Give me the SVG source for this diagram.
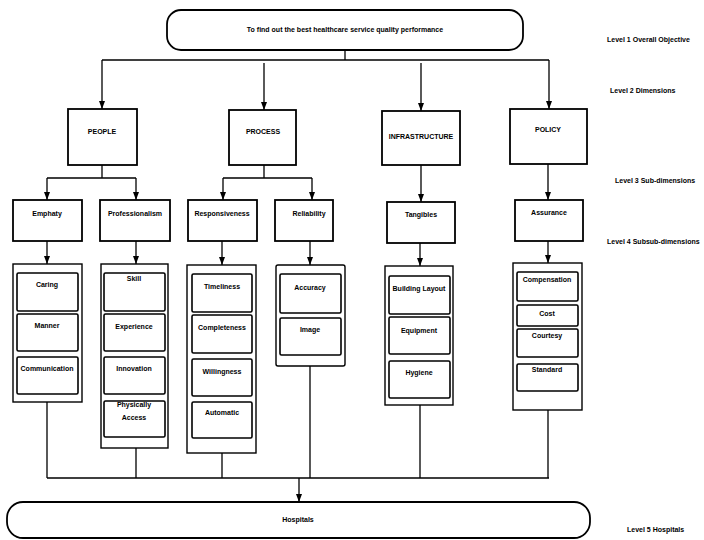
<svg xmlns="http://www.w3.org/2000/svg" width="704" height="540" viewBox="0 0 704 540">
<style>
text{font-family:"Liberation Sans",Arial,sans-serif;font-size:7px;font-weight:bold;fill:#000;text-anchor:middle}
.lvl{text-anchor:start}
.big{fill:#fff;stroke:#000;stroke-width:1.8}
.cont{fill:#fff;stroke:#000;stroke-width:1.4}
.item{fill:#fff;stroke:#000;stroke-width:1.6}
.ln{fill:none;stroke:#000;stroke-width:1.3}
.ar{fill:none;stroke:#000;stroke-width:1.3;marker-end:url(#ah)}
</style>
<defs>
<marker id="ah" viewBox="0 0 8 6" refX="8" refY="3" markerWidth="8" markerHeight="6" markerUnits="userSpaceOnUse" orient="auto">
<path d="M0,0 L8,3 L0,6 Z" fill="#000"/>
</marker>
</defs>
<rect width="704" height="540" fill="#fff"/>

<g id="connectors">
<path class="ln" d="M345,50 V60 M102,60 H549"/>
<path class="ar" d="M102,60 V109"/>
<path class="ar" d="M264,63 V110"/>
<path class="ar" d="M421,63 V111"/>
<path class="ar" d="M549,60 V109"/>

<path class="ln" d="M102,165 V178 M47,178 H136"/>
<path class="ar" d="M47,178 V200"/>
<path class="ar" d="M136,178 V200"/>
<path class="ln" d="M264,165 V178 M223,178 H312"/>
<path class="ar" d="M223,178 V200"/>
<path class="ar" d="M312,178 V200"/>
<path class="ar" d="M421,165 V202"/>
<path class="ar" d="M548,164 V200"/>

<path class="ar" d="M47,241 V264"/>
<path class="ar" d="M136,241 V264"/>
<path class="ar" d="M222,241 V265"/>
<path class="ar" d="M310,241 V265"/>
<path class="ar" d="M420,243 V266"/>
<path class="ar" d="M548,241 V263"/>

<path class="ln" d="M47,402 V478 M136,448 V478 M222,453 V478 M310,366 V478 M420,405 V478 M548,410 V478 M47,478 H549"/>
<path class="ar" d="M299,478 V502"/>
</g>

<g id="objective">
<rect class="big" x="167" y="10" width="356" height="40" rx="14"/>
<text x="345" y="32">To find out the best healthcare service quality performance</text>
</g>

<g id="people"><rect class="big" x="68" y="109" width="69" height="56"/><text x="102" y="134">PEOPLE</text></g>
<g id="process"><rect class="big" x="229" y="110" width="67" height="55"/><text x="263" y="134">PROCESS</text></g>
<g id="infrastructure"><rect class="big" x="382" y="111" width="78" height="54"/><text x="421" y="139">INFRASTRUCTURE</text></g>
<g id="policy"><rect class="big" x="510" y="109" width="77" height="55"/><text x="548" y="132">POLICY</text></g>

<g id="empathy"><rect class="big" x="13" y="200" width="69" height="41"/><text x="47" y="216">Emphaty</text></g>
<g id="professionalism"><rect class="big" x="100" y="200" width="70" height="41"/><text x="135" y="216">Professionalism</text></g>
<g id="responsiveness"><rect class="big" x="188" y="200" width="69" height="41"/><text x="222" y="216">Responsiveness</text></g>
<g id="reliability"><rect class="big" x="275" y="200" width="58" height="41"/><text x="309" y="216">Reliability</text></g>
<g id="tangibles"><rect class="big" x="387" y="202" width="68" height="41"/><text x="421" y="217">Tangibles</text></g>
<g id="assurance"><rect class="big" x="515" y="200" width="68" height="41"/><text x="549" y="215">Assurance</text></g>

<g id="empathy-items">
<rect class="cont" x="13" y="264" width="69" height="138"/>
<rect class="item" x="17" y="273" width="61" height="38" rx="1.5"/><text x="47" y="287">Caring</text>
<rect class="item" x="17" y="314" width="61" height="37" rx="1.5"/><text x="47" y="328">Manner</text>
<rect class="item" x="17" y="357" width="61" height="37" rx="1.5"/><text x="47" y="371">Communication</text>
</g>

<g id="professionalism-items">
<rect class="cont" x="101" y="264" width="67" height="184"/>
<rect class="item" x="104" y="273" width="61" height="38" rx="1.5"/><text x="134" y="281">Skill</text>
<rect class="item" x="104" y="314" width="61" height="37" rx="1.5"/><text x="134" y="329">Experience</text>
<rect class="item" x="104" y="357" width="61" height="37" rx="1.5"/><text x="134" y="371">Innovation</text>
<rect class="item" x="104" y="401" width="61" height="36" rx="1.5"/><text x="134" y="407">Physically</text><text x="134" y="420">Access</text>
</g>

<g id="responsiveness-items">
<rect class="cont" x="187" y="265" width="69" height="188"/>
<rect class="item" x="192" y="274" width="60" height="38" rx="1.5"/><text x="222" y="289">Timeliness</text>
<rect class="item" x="192" y="315" width="60" height="38" rx="1.5"/><text x="222" y="330">Completeness</text>
<rect class="item" x="192" y="359" width="60" height="37" rx="1.5"/><text x="222" y="374">Willingness</text>
<rect class="item" x="192" y="402" width="60" height="36" rx="1.5"/><text x="222" y="415">Automatic</text>
</g>

<g id="reliability-items">
<rect class="cont" x="276" y="265" width="69" height="101" rx="2"/>
<rect class="item" x="280" y="274" width="61" height="39" rx="1.5"/><text x="310" y="290">Accuracy</text>
<rect class="item" x="280" y="318" width="61" height="37" rx="1.5"/><text x="310" y="332">Image</text>
</g>

<g id="tangibles-items">
<rect class="cont" x="385" y="266" width="68" height="139"/>
<rect class="item" x="389" y="276" width="61" height="38" rx="1.5"/><text x="419" y="291">Building Layout</text>
<rect class="item" x="389" y="317" width="61" height="37" rx="1.5"/><text x="419" y="333">Equipment</text>
<rect class="item" x="389" y="361" width="61" height="37" rx="1.5"/><text x="419" y="375">Hygiene</text>
</g>

<g id="assurance-items">
<rect class="cont" x="513" y="263" width="69" height="147"/>
<rect class="item" x="517" y="272" width="61" height="29" rx="1.5"/><text x="547" y="282">Compensation</text>
<rect class="item" x="517" y="305" width="61" height="21" rx="1.5"/><text x="547" y="316">Cost</text>
<rect class="item" x="517" y="329" width="61" height="28" rx="1.5"/><text x="547" y="338">Courtesy</text>
<rect class="item" x="517" y="364" width="61" height="27" rx="1.5"/><text x="547" y="372">Standard</text>
</g>

<g id="hospitals">
<rect class="big" x="7" y="502" width="583" height="36" rx="16"/>
<text x="298" y="522">Hospitals</text>
</g>

<g id="levels">
<text class="lvl" x="607" y="42">Level 1 Overall Objective</text>
<text class="lvl" x="610" y="93">Level 2 Dimensions</text>
<text class="lvl" x="615" y="183">Level 3 Sub-dimensions</text>
<text class="lvl" x="607" y="244">Level 4 Subsub-dimensions</text>
<text class="lvl" x="627" y="532">Level 5 Hospitals</text>
</g>
</svg>
